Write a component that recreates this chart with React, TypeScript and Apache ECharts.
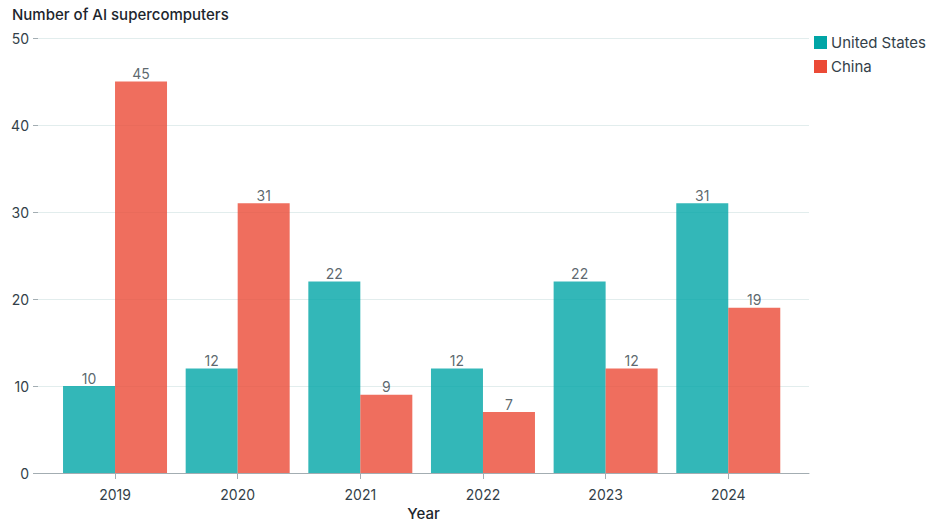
import React, { useEffect, useRef } from "react";
import * as echarts from "echarts";

const years = ["2019", "2020", "2021", "2022", "2023", "2024"];
const unitedStates = [10, 12, 22, 12, 22, 31];
const china = [45, 31, 9, 7, 12, 19];
const yTicks = { min: 0, max: 50, interval: 10 };

const TEAL = "#00A5A6";
const RED = "#EB4A36";
const FONT = "Inter, 'Noto Sans', sans-serif";
const TEXT = "#333f49";

export default function App() {
  const ref = useRef<HTMLDivElement>(null);
  useEffect(() => {
    if (!ref.current) return;
    const chart = echarts.init(ref.current, null, { renderer: "svg" });
    const label = {
      show: true,
      position: "top",
      distance: 1,
      color: TEXT,
      fontSize: 14,
      fontFamily: FONT,
    };
    chart.setOption({
      animation: false,
      textStyle: { fontFamily: FONT },
      title: {
        text: "Number of AI supercomputers",
        left: 7,
        top: 2,
        textStyle: { fontSize: 15, fontWeight: 500, color: "#1d262d", fontFamily: FONT },
      },
      legend: {
        orient: "vertical",
        left: 809,
        top: 30,
        itemWidth: 13,
        itemHeight: 13,
        itemGap: 9,
        icon: "rect",
        textStyle: { fontSize: 15, color: TEXT, fontFamily: FONT, padding: [0, 0, 0, -1], overflow: "none" },
        data: [
          { name: "United States", itemStyle: { color: TEAL, opacity: 1 } },
          { name: "China", itemStyle: { color: RED, opacity: 1 } },
        ],
      },
      grid: [
        { left: 38, right: 121, top: 38, bottom: 52, containLabel: false, outerBoundsMode: "none" },
        { left: 53.7, right: 140.4, top: 38, bottom: 52, containLabel: false, outerBoundsMode: "none" },
      ],
      xAxis: [
        {
          gridIndex: 0,
          type: "value",
          min: 0,
          max: 1,
          name: "Year",
          nameLocation: "middle",
          nameGap: 33,
          nameTextStyle: { fontSize: 15, color: "#1d262d", fontFamily: FONT, fontWeight: 500 },
          axisLine: { show: true, lineStyle: { color: "#a3adb2", width: 1 } },
          axisTick: { show: false },
          axisLabel: { show: false },
          splitLine: { show: false },
        },
        {
          gridIndex: 1,
          type: "category",
          data: years,
          axisLine: { show: false },
          axisTick: { show: true, alignWithLabel: true, length: 6, lineStyle: { color: "#a3adb2" } },
          axisLabel: { margin: 14, fontSize: 14, color: TEXT, fontFamily: FONT },
        },
      ],
      yAxis: [
        {
          gridIndex: 0,
          type: "value",
          ...yTicks,
          axisLine: { show: false },
          axisTick: { show: true, length: 5, lineStyle: { color: "#a3adb2" } },
          axisLabel: { margin: 9, fontSize: 14, color: TEXT, fontFamily: FONT },
          splitLine: { show: true, lineStyle: { color: "#e2eded", width: 1 } },
        },
        {
          gridIndex: 1,
          type: "value",
          ...yTicks,
          show: false,
          splitLine: { show: false },
        },
      ],
      series: [
        {
          name: "United States",
          type: "bar",
          xAxisIndex: 1,
          yAxisIndex: 1,
          data: unitedStates,
          barWidth: 52,
          barGap: "0%",
          itemStyle: { color: TEAL, opacity: 0.8 },
          label,
        },
        {
          name: "China",
          type: "bar",
          xAxisIndex: 1,
          yAxisIndex: 1,
          data: china,
          barWidth: 52,
          barGap: "0%",
          itemStyle: { color: RED, opacity: 0.8 },
          label,
        },
      ],
    });
    return () => chart.dispose();
  }, []);
  return (
    <div
      ref={ref}
      style={{ position: "absolute", left: 0, top: 0, width: 930, height: 525 }}
    />
  );
}
